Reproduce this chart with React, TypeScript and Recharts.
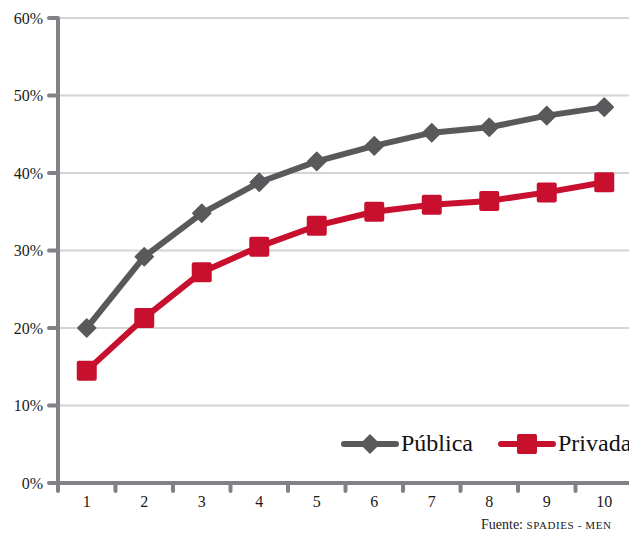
import { CartesianGrid, Legend, Line, LineChart, XAxis, YAxis } from "recharts";

// Share per decile (%), by type of institution
const deciles = [1, 2, 3, 4, 5, 6, 7, 8, 9, 10];
const publica = [20.0, 29.2, 34.8, 38.8, 41.5, 43.5, 45.2, 45.9, 47.4, 48.5];
const privada = [14.5, 21.3, 27.2, 30.5, 33.2, 35.0, 35.9, 36.4, 37.5, 38.8];
const yTicks = [0, 10, 20, 30, 40, 50, 60];

const GRAY = "#58595b";
const RED = "#c8102e";
const AXIS = "#808285";
const GRID = "#d4d4d4";
const FONT = "'Liberation Serif', 'Times New Roman', serif";

const X_TICK_SIZE = 8;
const X_TICK_MARGIN = 4;

const data = deciles.map((d, i) => ({ decil: d, publica: publica[i], privada: privada[i] }));
// labels sit on the deciles, tick marks between them
const xTicks = [...deciles.flatMap((d) => [d - 0.5, d]), deciles[deciles.length - 1] + 0.5];

function Diamond({ cx, cy, fill, r = 9 }: { cx: number; cy: number; fill: string; r?: number }) {
  return (
    <polygon
      points={`${cx},${cy - r} ${cx + r},${cy} ${cx},${cy + r} ${cx - r},${cy}`}
      fill={fill}
      stroke={fill}
      strokeWidth={1.5}
      strokeLinejoin="round"
    />
  );
}

function Square({ cx, cy, fill, s = 10 }: { cx: number; cy: number; fill: string; s?: number }) {
  return <rect x={cx - s} y={cy - s} width={s * 2} height={s * 2} rx={2} fill={fill} />;
}

function DecileTick(props: any) {
  const { x, y, payload } = props;
  const v = payload.value;
  if (!Number.isInteger(v)) {
    const axisY = y - X_TICK_SIZE - X_TICK_MARGIN;
    return (
      <line x1={x} x2={x} y1={axisY} y2={axisY + X_TICK_SIZE} stroke={AXIS} strokeWidth={4} strokeLinecap="round" />
    );
  }
  return (
    <text x={x} y={y} dy="0.75em" textAnchor="middle" fill="#1a1a1a" fontSize={16} fontFamily={FONT}>
      {v}
    </text>
  );
}

function LegendContent() {
  const items = [
    { label: "Pública", color: GRAY, shape: "diamond" },
    { label: "Privada", color: RED, shape: "square" },
  ];
  return (
    <div style={{ display: "flex", alignItems: "center", gap: 25, fontFamily: FONT, whiteSpace: "nowrap" }}>
      {items.map((it) => (
        <div key={it.label} style={{ display: "flex", alignItems: "center" }}>
          <svg width={58} height={24}>
            <line x1={3} x2={55} y1={12} y2={12} stroke={it.color} strokeWidth={6} strokeLinecap="round" />
            {it.shape === "diamond" ? (
              <Diamond cx={29} cy={12} fill={it.color} />
            ) : (
              <Square cx={29} cy={12} fill={it.color} />
            )}
          </svg>
          <span style={{ fontSize: 24, color: "#111", marginLeft: 2 }}>{it.label}</span>
        </div>
      ))}
    </div>
  );
}

export default function App() {
  return (
    <div style={{ position: "fixed", left: 0, top: 0, width: 629, height: 533, overflow: "hidden", background: "#fff" }}>
      <LineChart width={650} height={533} data={data} margin={{ top: 18, right: 17, left: 0, bottom: 20 }}>
        <CartesianGrid vertical={false} stroke={GRID} strokeWidth={2} />
        <XAxis
          dataKey="decil"
          type="number"
          domain={[0.5, 10.5]}
          ticks={xTicks}
          interval={0}
          height={30}
          tick={<DecileTick />}
          tickLine={false}
          tickSize={X_TICK_SIZE}
          tickMargin={X_TICK_MARGIN}
          axisLine={{ stroke: AXIS, strokeWidth: 4 }}
        />
        <YAxis
          domain={[0, 60]}
          ticks={yTicks}
          interval={0}
          width={58}
          tickFormatter={(v) => `${v}%`}
          tick={{ fill: "#1a1a1a", fontSize: 16, fontFamily: FONT }}
          tickSize={9}
          tickMargin={6}
          tickLine={{ stroke: AXIS, strokeWidth: 4, strokeLinecap: "round" }}
          axisLine={{ stroke: AXIS, strokeWidth: 4 }}
        />
        <Legend
          layout="horizontal"
          verticalAlign="middle"
          align="center"
          content={<LegendContent />}
          wrapperStyle={{ left: 341, top: 430, width: "auto" }}
        />
        <Line
          dataKey="publica"
          name="Pública"
          stroke={GRAY}
          strokeWidth={6}
          strokeLinejoin="round"
          isAnimationActive={false}
          dot={(p: any) => <Diamond key={`pu-${p.index}`} cx={p.cx} cy={p.cy} fill={GRAY} />}
          activeDot={false}
        />
        <Line
          dataKey="privada"
          name="Privada"
          stroke={RED}
          strokeWidth={6}
          strokeLinejoin="round"
          isAnimationActive={false}
          dot={(p: any) => <Square key={`pr-${p.index}`} cx={p.cx} cy={p.cy} fill={RED} />}
          activeDot={false}
        />
      </LineChart>
      <div style={{ position: "absolute", left: 481, top: 517, fontFamily: FONT, fontSize: 14, color: "#1a1a1a", whiteSpace: "nowrap" }}>
        Fuente: <span style={{ fontSize: 11, letterSpacing: 0.6 }}>SPADIES - MEN</span>
      </div>
    </div>
  );
}
